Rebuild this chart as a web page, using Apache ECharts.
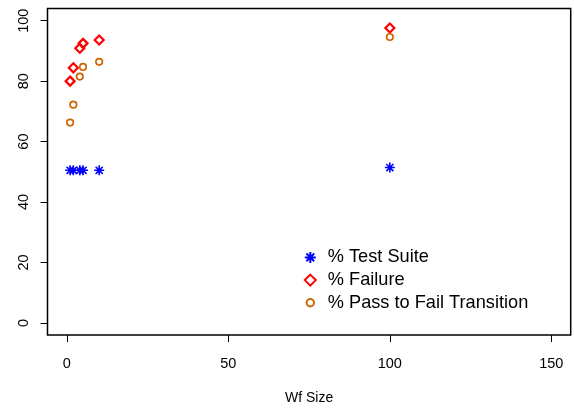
<!DOCTYPE html>
<html>
<head>
<meta charset="utf-8">
<script src="https://cdn.jsdelivr.net/npm/echarts@6/dist/echarts.min.js"></script>
<style>
html,body{margin:0;padding:0;background:#fff;}
#chart{width:574px;height:410px;}
</style>
</head>
<body>
<div id="chart"></div>
<script>
const wfSize = [1, 2, 4, 5, 10, 100];
const testSuite = [50.5, 50.5, 50.5, 50.5, 50.5, 51.4];
const failure = [80.0, 84.4, 90.9, 92.5, 93.6, 97.6];
const passToFail = [66.3, 72.2, 81.5, 84.7, 86.4, 94.6];
const xTicks = [0, 50, 100, 150];
const yTicks = [0, 20, 40, 60, 80, 100];
const seriesNames = ['% Test Suite', '% Failure', '% Pass to Fail Transition'];
const xName = 'Wf Size';

const FONT = 'Liberation Sans, Arial, Helvetica, sans-serif';
const ASTERISK = 'path://M5,0L5,10M0,5L10,5M1.46,1.46L8.54,8.54M1.46,8.54L8.54,1.46';
const SMALL_CIRCLE = 'path://M0,0M11,11M1.8,5.5A3.7,3.7 0 1 0 9.2,5.5A3.7,3.7 0 1 0 1.8,5.5Z';

function pairs(ys) { return wfSize.map((x, i) => [x, ys[i]]); }

const chart = echarts.init(document.getElementById('chart'), null, {renderer: 'canvas'});
chart.setOption({
  animation: false,
  backgroundColor: '#fff',
  grid: {
    left: 47.5, right: 3.3, top: 8.6, bottom: 74.6,
    show: true, borderColor: '#000', borderWidth: 1.5, backgroundColor: 'transparent'
  },
  xAxis: {
    type: 'value', min: -6, max: 156,
    name: xName, nameLocation: 'middle', nameGap: 56,
    nameTextStyle: {fontFamily: FONT, fontSize: 14, color: '#000'},
    axisLine: {show: false, onZero: false},
    axisTick: {show: true, length: 7, customValues: xTicks, lineStyle: {color: '#000', width: 1}},
    axisLabel: {customValues: xTicks, margin: 21, fontFamily: FONT, fontSize: 14.5, color: '#000'},
    splitLine: {show: false}
  },
  yAxis: {
    type: 'value', min: -4, max: 104,
    axisLine: {show: false, onZero: false},
    axisTick: {show: true, length: 7, customValues: yTicks, lineStyle: {color: '#000', width: 1}},
    axisLabel: {customValues: yTicks, rotate: 90, margin: 16, fontFamily: FONT, fontSize: 14.5, color: '#000'},
    splitLine: {show: false}
  },
  legend: {
    orient: 'vertical', left: 298.8, top: 243.4,
    itemWidth: 11, itemHeight: 11, itemGap: 4.7,
    data: [
      {name: seriesNames[0]},
      {name: seriesNames[1]},
      {name: seriesNames[2], icon: SMALL_CIRCLE}
    ],
    textStyle: {fontFamily: FONT, fontSize: 18.2, color: '#000', lineHeight: 18, padding: [0, 0, 0, 7]}
  },
  series: [
    {
      name: seriesNames[0], type: 'scatter', data: pairs(testSuite),
      symbol: ASTERISK, symbolSize: 10,
      itemStyle: {color: 'rgba(0,0,0,0)', borderColor: '#0000FF', borderWidth: 1.6, opacity: 1},
      emphasis: {disabled: true}
    },
    {
      name: seriesNames[1], type: 'scatter', data: pairs(failure),
      symbol: 'diamond', symbolSize: 9,
      itemStyle: {color: 'rgba(0,0,0,0)', borderColor: '#FF0000', borderWidth: 2.2, opacity: 1},
      emphasis: {disabled: true}
    },
    {
      name: seriesNames[2], type: 'scatter', data: pairs(passToFail),
      symbol: 'circle', symbolSize: 6.5,
      itemStyle: {color: 'rgba(0,0,0,0)', borderColor: '#CD6600', borderWidth: 1.7, opacity: 1},
      emphasis: {disabled: true}
    }
  ]
});
</script>
</body>
</html>
